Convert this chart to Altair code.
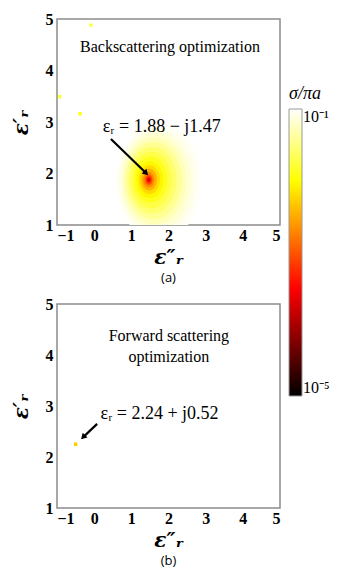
import altair as alt
import pandas as pd

# ---------------- data ----------------
# (a) backscattering map: concentric levels of sigma/(pi a) around the optimum
ring_r = [1.15, 1.05, 0.95, 0.85, 0.75, 0.65, 0.55, 0.45, 0.36, 0.28, 0.21, 0.15, 0.10, 0.06, 0.03]
ring_sigma = [0.093, 0.082, 0.068, 0.052, 0.038, 0.027, 0.019, 0.013, 0.009, 0.006,
              0.0035, 0.002, 0.0009, 0.0004, 0.00015]
ring_cx = [1.74, 1.70, 1.67, 1.63, 1.60, 1.57, 1.54, 1.52, 1.50, 1.49, 1.48, 1.47, 1.47, 1.47, 1.47]
ring_cy = [1.84, 1.85, 1.85, 1.86, 1.86, 1.87, 1.87, 1.88, 1.88, 1.88, 1.88, 1.88, 1.88, 1.88, 1.88]

# isolated small spots in (a)
spot_x = [-0.09, -0.93, -0.38]
spot_y = [4.88, 3.49, 3.16]
spot_sigma = [0.02, 0.016, 0.012]

# (b) forward scattering: a single small spot
fwd_x = [-0.5]
fwd_y = [2.25]
fwd_sigma = [0.005]

# annotations
a_title = ["Backscattering optimization"]
a_title_x = [2.04]
a_title_y = [4.46]
a_label = ["εᵣ = 1.88 − j1.47"]
a_label_x = [1.82]
a_label_y = [2.90]
a_arrow = {"x": [0.45], "y": [2.67], "x2": [1.38], "y2": [2.02]}

b_title = ["Forward scattering", "optimization"]
b_title_x = [2.01, 2.01]
b_title_y = [4.37, 3.96]
b_label = ["εᵣ = 2.24 + j0.52"]
b_label_x = [1.76]
b_label_y = [2.84]
b_arrow = {"x": [0.08], "y": [2.65], "x2": [-0.28], "y2": [2.40]}

x_ticks = [-1, 0, 1, 2, 3, 4, 5]
y_ticks = [1, 2, 3, 4, 5]
cbar_domain = [1e-5, 10 ** -3.5, 1e-2, 1e-1]
cbar_colors = ["#000000", "#ff0000", "#ffff00", "#ffffff"]

# ---------------- chart ----------------
W = 223
PX = W / 6.0


def panel(h, rings, spots, titles, label, arrow, caption):
    H = h
    ry = (H / 4.0) / PX
    ellipse = f"M-1,0A1,{ry:.3f},0,1,0,1,0A1,{ry:.3f},0,1,0,-1,0Z"
    xs = alt.Scale(domain=[-1, 5], nice=False, zero=False)
    ys = alt.Scale(domain=[1, 5], nice=False, zero=False)
    xax = alt.Axis(values=x_ticks, title="ε″ᵣ", format="d", labelOverlap=False)
    yax = alt.Axis(values=y_ticks, title="ε′ᵣ", format="d", labelOverlap=False)

    def X(f):
        return alt.X(f, type="quantitative", scale=xs, axis=xax)

    def Y(f):
        return alt.Y(f, type="quantitative", scale=ys, axis=yax)

    color = alt.Color(
        "sigma:Q",
        scale=alt.Scale(type="log", domain=cbar_domain, range=cbar_colors, interpolate="rgb"),
        legend=alt.Legend(
            title="σ/πa",
            orient="none",
            legendX=232,
            legendY=66,
            direction="vertical",
            gradientLength=287,
            gradientThickness=13,
            gradientStrokeColor="#999999",
            gradientStrokeWidth=1,
            values=[1e-5, 1e-1],
            labelExpr="datum.value < 0.001 ? '10⁻⁵' : '10⁻¹'",
            labelFont="Liberation Serif",
            labelFontSize=16,
            labelColor="black",
            labelOffset=1,
            titleFont="Liberation Serif",
            titleFontStyle="italic",
            titleFontWeight="normal",
            titleFontSize=18,
            titleColor="black",
            titlePadding=6,
        ),
    )
    layers = []
    if rings is not None:
        layers.append(
            alt.Chart(rings)
            .transform_calculate(r2="datum.r*datum.r")
            .mark_point(shape=ellipse, filled=True, opacity=1, strokeWidth=0, clip=True)
            .encode(
                x=X("x"),
                y=Y("y"),
                size=alt.Size("r2:Q", scale=alt.Scale(type="linear", domain=[0, 2], range=[0, 8 * PX * PX]), legend=None),
                color=color,
            )
        )
    layers.append(
        alt.Chart(spots)
        .mark_square(size=12, opacity=1, clip=True)
        .encode(x=X("x"), y=Y("y"), color=color)
    )
    layers.append(
        alt.Chart(titles)
        .mark_text(font="Liberation Serif", fontSize=16, color="black")
        .encode(x=X("x"), y=Y("y"), text="t:N")
    )
    layers.append(
        alt.Chart(label)
        .mark_text(font="Liberation Serif", fontSize=18, color="black")
        .encode(x=X("x"), y=Y("y"), text="t:N")
    )
    layers.append(
        alt.Chart(arrow)
        .mark_rule(strokeWidth=2.2, color="black")
        .encode(x=X("x"), y=Y("y"), x2="x2:Q", y2="y2:Q")
    )
    layers.append(
        alt.Chart(arrow)
        .mark_point(shape="triangle", filled=True, size=45, color="black", opacity=1)
        .encode(x=X("x2"), y=Y("y2"), angle=alt.AngleValue(int(arrow["ang"].iloc[0])))
    )
    return alt.layer(*layers).properties(
        width=W,
        height=H,
        title=alt.TitleParams(caption, orient="bottom", font="Open Sans", fontSize=13,
                              fontWeight="normal", color="black", offset=5),
    )


rings_df = pd.DataFrame({"x": ring_cx, "y": ring_cy, "r": ring_r, "sigma": ring_sigma})
spots_df = pd.DataFrame({"x": spot_x, "y": spot_y, "sigma": spot_sigma})
fwd_df = pd.DataFrame({"x": fwd_x, "y": fwd_y, "sigma": fwd_sigma})
a_titles = pd.DataFrame({"x": a_title_x, "y": a_title_y, "t": a_title})
a_labels = pd.DataFrame({"x": a_label_x, "y": a_label_y, "t": a_label})
b_titles = pd.DataFrame({"x": b_title_x, "y": b_title_y, "t": b_title})
b_labels = pd.DataFrame({"x": b_label_x, "y": b_label_y, "t": b_label})
a_arr = pd.DataFrame(a_arrow)
a_arr["ang"] = 135
b_arr = pd.DataFrame(b_arrow)
b_arr["ang"] = 225

top = panel(206, rings_df, spots_df, a_titles, a_labels, a_arr, "(a)")
bottom = panel(204, None, fwd_df, b_titles, b_labels, b_arr, "(b)")

chart = (
    alt.vconcat(top, bottom, spacing=9)
    .resolve_scale(color="shared")
    .properties(padding={"left": 2, "top": 2, "right": 0, "bottom": 0})
    .configure_view(stroke="#8c8c8c", strokeWidth=1.5)
    .configure_axis(
        domain=False,
        ticks=False,
        grid=False,
        labelOverlap=False,
        labelFont="Liberation Serif",
        labelFontWeight="bold",
        labelFontSize=16,
        labelColor="black",
        labelPadding=2,
        titleFont="DejaVu Serif",
        titleFontStyle="italic",
        titleFontWeight="bold",
        titleFontSize=20,
        titleColor="black",
    )
    .configure_axisY(titlePadding=14, labelPadding=4)
    .configure_axisX(titlePadding=4)
)

chart.save("out.html", embed_options={"renderer": "svg", "actions": False})
